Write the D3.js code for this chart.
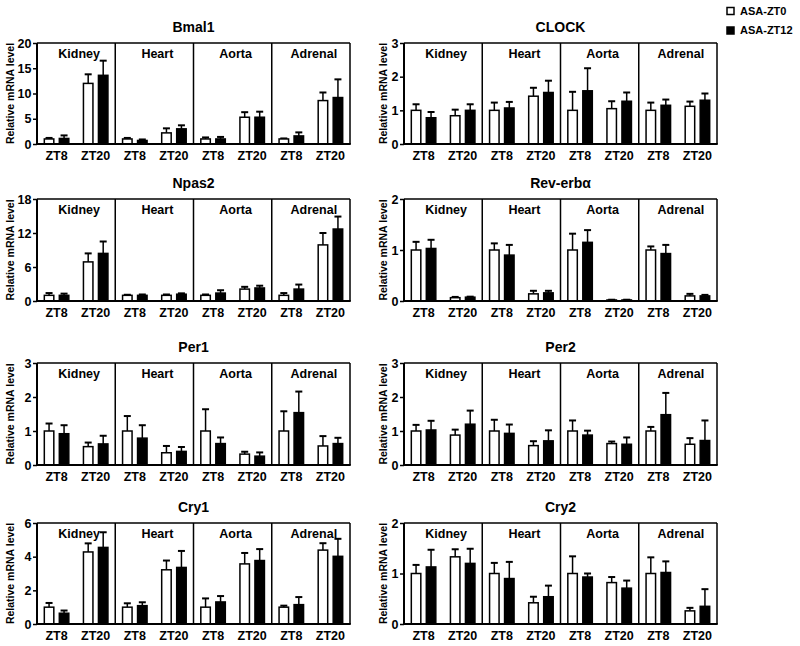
<!DOCTYPE html>
<html>
<head>
<meta charset="utf-8">
<script src="https://cdn.jsdelivr.net/npm/d3@7"></script>
<style>
  html, body { margin: 0; padding: 0; background: #fff; }
  svg { display: block; }
  text { font-family: "Liberation Sans", Arial, sans-serif; font-weight: bold; fill: #000; }
</style>
</head>
<body>
<svg id="chart" width="800" height="646"></svg>
<script>
// ---------------- DATA ----------------
const tissues = ["Kidney", "Heart", "Aorta", "Adrenal"];
const times = ["ZT8", "ZT20"];
const seriesNames = ["ASA-ZT0", "ASA-ZT12"];
const genes = ["Bmal1", "CLOCK", "Npas2", "Rev-erbα", "Per1", "Per2", "Cry1", "Cry2"];
const yMax = [20, 3, 18, 2, 3, 3, 6, 2];
const yTicks = [[0, 5, 10, 15, 20], [0, 1, 2, 3], [0, 6, 12, 18], [0, 1, 2], [0, 1, 2, 3], [0, 1, 2, 3], [0, 2, 4, 6], [0, 1, 2]];

// order of values per gene: Kidney ZT8, Kidney ZT20, Heart ZT8, Heart ZT20, Aorta ZT8, Aorta ZT20, Adrenal ZT8, Adrenal ZT20
const zt0Mean = [
  [1.0, 12.0, 1.0, 2.2, 1.0, 5.3, 1.0, 8.6],
  [1.0, 0.84, 1.0, 1.42, 1.0, 1.05, 1.0, 1.12],
  [1.0, 6.9, 1.0, 1.0, 1.0, 2.1, 1.0, 9.9],
  [1.0, 0.065, 1.0, 0.14, 1.0, 0.02, 1.0, 0.1],
  [1.0, 0.54, 1.0, 0.36, 1.0, 0.32, 1.0, 0.56],
  [1.0, 0.88, 1.0, 0.57, 1.0, 0.63, 1.0, 0.61],
  [1.0, 4.28, 1.0, 3.22, 1.0, 3.57, 1.0, 4.39],
  [1.0, 1.33, 1.0, 0.42, 1.0, 0.82, 1.0, 0.26]
];
const zt0Err = [
  [0.2, 1.8, 0.2, 0.9, 0.3, 1.0, 0.1, 1.6],
  [0.18, 0.18, 0.23, 0.25, 0.55, 0.22, 0.23, 0.14],
  [0.4, 1.5, 0.1, 0.15, 0.15, 0.4, 0.4, 2.1],
  [0.16, 0.015, 0.13, 0.06, 0.32, 0.005, 0.07, 0.04],
  [0.22, 0.12, 0.44, 0.2, 0.64, 0.07, 0.58, 0.29],
  [0.18, 0.16, 0.33, 0.13, 0.31, 0.06, 0.12, 0.18],
  [0.25, 0.51, 0.23, 0.55, 0.52, 0.65, 0.09, 0.41],
  [0.17, 0.15, 0.21, 0.12, 0.34, 0.11, 0.32, 0.06]
];
const zt12Mean = [
  [1.1, 13.6, 0.7, 3.0, 1.0, 5.3, 1.6, 9.2],
  [0.78, 1.0, 1.07, 1.53, 1.58, 1.27, 1.15, 1.3],
  [1.0, 8.4, 1.0, 1.2, 1.4, 2.3, 2.1, 12.7],
  [1.03, 0.075, 0.9, 0.16, 1.15, 0.02, 0.93, 0.1],
  [0.92, 0.62, 0.79, 0.4, 0.63, 0.26, 1.54, 0.63],
  [1.03, 1.2, 0.93, 0.71, 0.88, 0.61, 1.48, 0.72],
  [0.64, 4.55, 1.09, 3.36, 1.31, 3.77, 1.15, 4.02],
  [1.13, 1.2, 0.9, 0.54, 0.93, 0.71, 1.02, 0.35]
];
const zt12Err = [
  [0.6, 2.9, 0.2, 0.7, 0.4, 1.1, 0.7, 3.6],
  [0.17, 0.18, 0.18, 0.35, 0.67, 0.26, 0.17, 0.2],
  [0.3, 2.1, 0.15, 0.15, 0.5, 0.4, 0.8, 2.2],
  [0.17, 0.01, 0.2, 0.04, 0.24, 0.005, 0.17, 0.02],
  [0.25, 0.24, 0.38, 0.13, 0.18, 0.11, 0.62, 0.17],
  [0.27, 0.4, 0.26, 0.31, 0.13, 0.2, 0.64, 0.59],
  [0.16, 0.9, 0.2, 0.98, 0.35, 0.68, 0.45, 1.04],
  [0.34, 0.29, 0.33, 0.22, 0.07, 0.15, 0.22, 0.34]
];

// ---------------- LAYOUT ----------------
const colX = [[37, 350], [404, 717]];
const rowY = [[43, 144], [199, 301], [363, 465], [523, 624]];

const svg = d3.select("#chart");
const cats = [];
tissues.forEach(t => times.forEach(z => cats.push(t + "|" + z)));

genes.forEach((gene, gi) => {
  const col = gi % 2, row = Math.floor(gi / 2);
  const [x0, x1] = colX[col];
  const [y0, y1] = rowY[row];

  const x = d3.scaleBand().domain(cats).range([x0, x1]).padding(0);
  const xT = d3.scaleBand().domain(tissues).range([x0, x1]).padding(0);
  const inner = d3.scaleBand().domain(seriesNames).range([0, 26]).paddingInner(4 / 15).paddingOuter(0);
  const y = d3.scaleLinear().domain([0, yMax[gi]]).range([y1, y0]);

  const g = svg.append("g");

  // title
  g.append("text")
    .attr("x", (x0 + x1) / 2).attr("y", y0 - 11)
    .attr("text-anchor", "middle").style("font-size", "14px")
    .text(gene);

  // y axis title
  g.append("text")
    .attr("transform", `translate(${col === 0 ? 14 : 387},${(y0 + y1) / 2}) rotate(-90)`)
    .attr("text-anchor", "middle").style("font-size", "10.5px")
    .text("Relative mRNA level");

  // bars
  const data = [];
  cats.forEach((c, ci) => {
    data.push({ c, s: seriesNames[0], v: zt0Mean[gi][ci], e: zt0Err[gi][ci] });
    data.push({ c, s: seriesNames[1], v: zt12Mean[gi][ci], e: zt12Err[gi][ci] });
  });
  const bx = d => x(d.c) + x.bandwidth() / 2 - 13 + inner(d.s);

  // error bars
  const eg = g.append("g").attr("stroke", "#000").attr("stroke-width", 1.5);
  data.forEach(d => {
    const cx = bx(d) + inner.bandwidth() / 2;
    eg.append("line").attr("x1", cx).attr("x2", cx).attr("y1", y(d.v)).attr("y2", y(d.v + d.e));
    eg.append("line").attr("x1", cx - 3.5).attr("x2", cx + 3.5).attr("y1", y(d.v + d.e)).attr("y2", y(d.v + d.e)).attr("stroke-width", 2);
  });

  g.selectAll("rect.bar").data(data).join("rect")
    .attr("class", "bar")
    .attr("x", d => bx(d) + 0.75)
    .attr("width", inner.bandwidth() - 1.5)
    .attr("y", d => y(d.v))
    .attr("height", d => Math.max(0, y1 - y(d.v)))
    .attr("fill", d => d.s === seriesNames[0] ? "#fff" : "#000")
    .attr("stroke", "#000").attr("stroke-width", 1.5);

  // frame and dividers
  g.append("line").attr("x1", x0).attr("x2", x1).attr("y1", y0).attr("y2", y0).attr("stroke", "#000").attr("stroke-width", 1.5);
  g.append("line").attr("x1", x1).attr("x2", x1).attr("y1", y0).attr("y2", y1).attr("stroke", "#000").attr("stroke-width", 1.5);
  tissues.slice(1).forEach(t => {
    g.append("line").attr("x1", xT(t)).attr("x2", xT(t)).attr("y1", y0).attr("y2", y1)
      .attr("stroke", "#000").attr("stroke-width", 1.5);
  });

  // tissue labels
  tissues.forEach(t => {
    g.append("text")
      .attr("x", xT(t) + xT.bandwidth() / 2 + 3).attr("y", y0 + 14.5)
      .attr("text-anchor", "middle").style("font-size", "12.5px")
      .text(t);
  });

  // y axis
  const ya = g.append("g").attr("transform", `translate(${x0},0)`)
    .call(d3.axisLeft(y).tickValues(yTicks[gi]).tickSize(4).tickPadding(1.5).tickFormat(d3.format("d")));
  ya.select(".domain").attr("stroke-width", 2).attr("d", `M0,${y0}V${y1}`);
  ya.selectAll(".tick line").attr("stroke-width", 1.5);
  ya.selectAll(".tick text").style("font-size", "12.5px").style("font-family", "Liberation Sans, Arial, sans-serif").style("font-weight", "bold").attr("fill", "#000");

  // x axis
  const xa = g.append("g").attr("transform", `translate(0,${y1})`)
    .call(d3.axisBottom(x).tickSize(0).tickPadding(7).tickFormat(d => d.split("|")[1]));
  xa.select(".domain").attr("stroke-width", 2).attr("d", `M${x0 - 1},0H${x1 + 0.75}`);
  xa.selectAll(".tick text").style("font-size", "12.5px").style("font-family", "Liberation Sans, Arial, sans-serif").style("font-weight", "bold").attr("fill", "#000");
});

// ---------------- LEGEND ----------------
const lg = svg.append("g");
seriesNames.forEach((s, i) => {
  lg.append("rect").attr("x", 727).attr("y", 7.5 + i * 19.5).attr("width", 7).attr("height", 7)
    .attr("fill", i === 0 ? "#fff" : "#000").attr("stroke", "#000").attr("stroke-width", 1.5);
  lg.append("text").attr("x", 740).attr("y", 11 + i * 19.5).attr("dy", "0.35em")
    .style("font-size", "11px").text(s);
});
</script>
</body>
</html>
